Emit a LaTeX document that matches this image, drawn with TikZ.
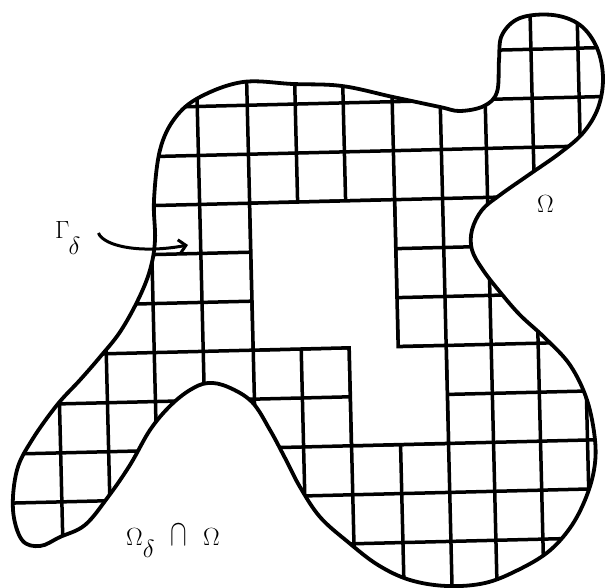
\documentclass[tikz,border=0pt]{standalone}
\usetikzlibrary{arrows.meta}

\begin{document}
\begin{tikzpicture}[x=1pt, y=-1pt,
  rim/.style={line width=3.8pt, line join=round},
  mesh/.style={line width=3.5pt},
  arr/.style={-{Straight Barb[length=7pt,width=14pt]}, line width=3pt},
  lbl/.style={font=\fontsize{26}{30}\selectfont, inner sep=0pt, anchor=base west}]
\useasboundingbox (0,0) rectangle (605,588);
% outline of the domain
\path[save path=\blobpath] plot[smooth cycle, tension=0.6] coordinates {
  (160,150) (175,118) (200,97) (243,82) (293,84) (342,86) (393,97) (440,107)
  (460,111) (484,106) (497,92) (499,60) (502,35) (520,18) (553,15) (580,25)
  (597,48) (603,78) (598,108) (583,133) (560,153) (530,174) (500,195) (482,210)
  (472,230) (472,250) (483,270) (500,292) (520,315) (545,338) (570,365) (587,400)
  (595,440) (594,470) (585,500) (570,528) (548,552) (518,570) (485,583) (447,586)
  (410,580) (378,565) (348,542) (320,517) (300,487) (285,458) (270,430) (252,402)
  (228,387) (208,383) (190,390) (170,406) (150,430) (130,465) (108,497) (85,525)
  (60,537) (40,546) (22,540) (13,510) (17,470) (32,440) (57,405) (80,380)
  (100,357) (120,332) (138,300) (150,270) (155,240) (154,200)};
\begin{scope}
  \clip[use path=\blobpath];
  \begin{scope}[rotate around={1.4:(300,300)}]
    \foreach \cx in {57,105,153,202,252,300,348,397,445,490,537,584}
      \draw[mesh] (\cx,-50) -- (\cx,650);
    \foreach \ry in {55,104,153,202,251,300,349,398,447,496,545}
      \draw[mesh] (-50,\ry) -- (650,\ry);
    % interior cells without mesh
    \fill[white] (252,202) -- (397,202) -- (397,349) -- (445,349) -- (445,447)
      -- (348,447) -- (348,349) -- (252,349) -- cycle;
    \draw[mesh] (252,202) -- (397,202) -- (397,349) -- (445,349) -- (445,447)
      -- (348,447) -- (348,349) -- (252,349) -- cycle;
  \end{scope}
\end{scope}
\draw[rim, use path=\blobpath];

\node[lbl] (gam) at (55,238) {$\Gamma$\kern-1pt\raisebox{-17pt}{$\delta$}};
\node[lbl] (omg) at (537,213) {$\Omega$};
\node[lbl] (cap) at (126,545)
  {$\Omega$\raisebox{-12pt}{$\delta$}\hspace{16pt}\scalebox{1}[1.5]{$\cap$}\hspace{16pt}$\Omega$};
\coordinate (gtip) at (188,245);
\draw[arr] ([shift={(18,-5)}]gam.east) .. controls +(5,13) and (140,254) .. (gtip);
\end{tikzpicture}
\end{document}
